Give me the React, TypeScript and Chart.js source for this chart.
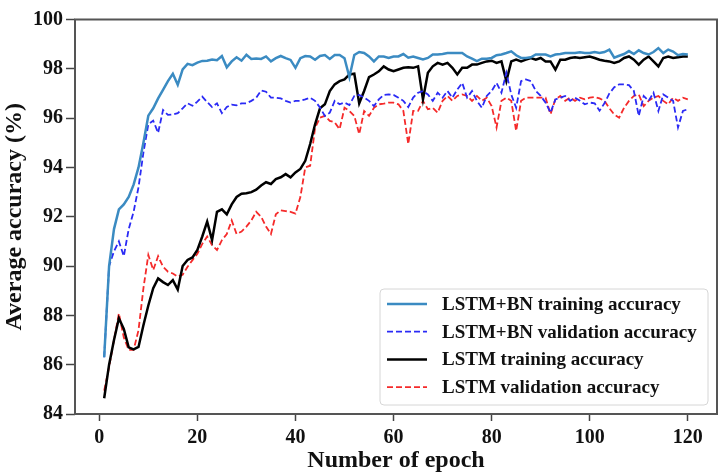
import React, { useEffect, useRef } from "react";
import { Chart, registerables } from "chart.js";

Chart.register(...registerables);

const epochs: number[] = Array.from({ length: 120 }, (_, i) => i + 1);

const xTicks = [0, 20, 40, 60, 80, 100, 120];
const yTicks = [84, 86, 88, 90, 92, 94, 96, 98, 100];

const seriesLabels = [
  "LSTM+BN training accuracy",
  "LSTM+BN validation accuracy",
  "LSTM training accuracy",
  "LSTM validation accuracy",
];

const bnTrain = [
  86.3, 90.0, 91.5, 92.3, 92.5, 92.8, 93.3, 94.0, 95.0, 96.1,
  96.4, 96.8, 97.15, 97.5, 97.8, 97.35, 97.98, 98.2, 98.15, 98.25,
  98.32, 98.33, 98.38, 98.35, 98.52, 98.06, 98.3, 98.47, 98.33, 98.57,
  98.4, 98.42, 98.4, 98.5, 98.3, 98.43, 98.52, 98.43, 98.36, 98.04,
  98.43, 98.52, 98.5, 98.37, 98.52, 98.56, 98.4, 98.56, 98.56, 98.43,
  97.66, 98.56, 98.68, 98.64, 98.5, 98.3, 98.5, 98.5, 98.44, 98.5,
  98.5, 98.6, 98.45, 98.5, 98.44, 98.38, 98.44, 98.58, 98.58, 98.6,
  98.64, 98.64, 98.64, 98.64, 98.5, 98.41, 98.31, 98.41, 98.41, 98.44,
  98.55, 98.58, 98.64, 98.71, 98.55, 98.44, 98.44, 98.47, 98.58, 98.58,
  98.58, 98.5, 98.58, 98.6, 98.64, 98.64, 98.64, 98.67, 98.64, 98.64,
  98.68, 98.64, 98.68, 98.78, 98.45, 98.53, 98.6, 98.72, 98.6, 98.75,
  98.64, 98.58, 98.68, 98.84, 98.64, 98.78, 98.7, 98.55, 98.6, 98.58,
];

const bnVal = [
  86.3, 90.0, 90.6, 91.0, 90.4, 91.5, 92.2, 93.2, 94.6, 95.75,
  95.9, 95.4, 96.33, 96.13, 96.15, 96.2, 96.4, 96.6, 96.5, 96.67,
  96.87, 96.65, 96.45, 96.6, 96.2, 96.45, 96.55, 96.52, 96.6, 96.6,
  96.7, 96.83, 97.12, 97.07, 96.83, 96.83, 96.8, 96.7, 96.63, 96.7,
  96.7, 96.76, 96.83, 96.7, 96.43, 96.09, 96.22, 96.7, 96.56, 96.63,
  96.53, 96.9, 96.94, 96.83, 96.7, 96.49, 96.76, 96.94, 96.96, 96.94,
  96.83, 96.7, 96.45, 96.83, 97.03, 97.1, 96.96, 96.7, 97.03, 96.83,
  97.1, 96.83, 97.16, 97.43, 96.83, 97.1, 96.7, 96.42, 96.9, 97.1,
  97.43, 97.03, 97.84, 96.96, 96.42, 97.5, 97.57, 97.5, 97.1, 96.9,
  96.63, 96.22, 96.76, 96.83, 96.9, 96.7, 96.83, 96.7, 96.56, 96.63,
  96.6, 96.3, 96.6, 97.0, 97.25, 97.37, 97.37, 97.34, 97.1, 96.09,
  96.9, 96.7, 97.03, 96.29, 96.96, 96.83, 96.7, 95.62, 96.29, 96.36,
];

const lstmTrain = [
  84.64, 86.0, 87.0, 87.88, 87.45, 86.7, 86.62, 86.72, 87.6, 88.4,
  89.1, 89.5, 89.35, 89.23, 89.43, 89.05, 90.0, 90.25, 90.35, 90.65,
  91.2, 91.8, 91.05, 92.2, 92.3, 92.1, 92.5, 92.8, 92.93, 92.95,
  93.0, 93.1, 93.27, 93.4, 93.33, 93.53, 93.6, 93.73, 93.6, 93.8,
  93.94, 94.27, 94.95, 95.75, 96.4, 96.56, 97.1, 97.37, 97.5, 97.57,
  97.77, 97.8, 96.6, 97.1, 97.66, 97.77, 97.9, 98.1, 97.97, 97.9,
  97.97, 98.04, 98.06, 98.04, 98.1, 96.76, 97.84, 98.1, 98.24, 98.17,
  98.24, 98.04, 97.77, 98.04, 98.04, 98.17, 98.17, 98.24, 98.3, 98.33,
  98.24, 98.3, 97.5, 98.3, 98.37, 98.3, 98.37, 98.44, 98.37, 98.44,
  98.3, 98.3, 97.97, 98.37, 98.37, 98.44, 98.47, 98.44, 98.47, 98.5,
  98.44, 98.37, 98.33, 98.3, 98.24, 98.3, 98.44, 98.5, 98.37, 98.17,
  98.37, 98.5, 98.3, 98.1, 98.44, 98.5, 98.44, 98.47, 98.5, 98.5,
];

const lstmVal = [
  84.95, 85.9, 87.0, 88.08, 87.1, 86.6, 86.6, 87.4, 89.1, 90.45,
  89.84, 90.4, 89.97, 89.77, 89.7, 89.57, 89.65, 89.97, 90.24, 90.5,
  90.9, 91.2, 90.85, 90.65, 91.05, 91.3, 91.85, 91.3, 91.4, 91.6,
  91.85, 92.2, 92.0, 91.6, 91.3, 92.1, 92.26, 92.23, 92.2, 92.13,
  92.8, 94.0, 94.07, 95.6, 96.02, 96.09, 95.89, 95.83, 95.55, 96.42,
  96.29, 96.09, 95.35, 96.29, 96.09, 96.42, 96.56, 96.59, 96.63, 96.63,
  96.56, 96.29, 94.95, 96.29, 96.29, 96.7, 96.36, 96.42, 96.22, 96.7,
  96.9, 96.7, 96.9, 96.96, 96.9, 96.7, 96.9, 96.7, 96.83, 96.49,
  95.62, 96.7, 96.83, 96.7, 95.48, 96.7, 96.83, 96.83, 96.83, 96.83,
  96.83, 96.16, 96.76, 96.9, 96.7, 96.83, 96.7, 96.83, 96.76, 96.83,
  96.86, 96.8, 96.7, 96.4, 96.15, 96.02, 96.42, 96.7, 96.9, 96.96,
  96.49, 96.7, 96.83, 96.9, 96.7, 96.56, 96.83, 96.7, 96.83, 96.76,
];

const FONT = "'Liberation Serif', 'Times New Roman', serif";

const framePlugin = {
  id: "frameBox",
  afterDatasetsDraw(chart: any) {
    const { ctx, chartArea } = chart;
    ctx.save();
    ctx.strokeStyle = "#555555";
    ctx.lineWidth = 2;
    ctx.strokeRect(chartArea.left, chartArea.top, chartArea.right - chartArea.left, chartArea.bottom - chartArea.top);
    ctx.restore();
  },
};

const legendPlugin = {
  id: "insideLegend",
  afterDraw(chart: any) {
    const { ctx, chartArea } = chart;
    const boxRight = chartArea.right - 9;
    const boxBottom = chartArea.bottom - 9;
    const w = 328;
    const h = 116;
    const x0 = boxRight - w;
    const y0 = boxBottom - h;
    ctx.save();
    ctx.beginPath();
    const r = 4;
    ctx.moveTo(x0 + r, y0);
    ctx.lineTo(x0 + w - r, y0);
    ctx.quadraticCurveTo(x0 + w, y0, x0 + w, y0 + r);
    ctx.lineTo(x0 + w, y0 + h - r);
    ctx.quadraticCurveTo(x0 + w, y0 + h, x0 + w - r, y0 + h);
    ctx.lineTo(x0 + r, y0 + h);
    ctx.quadraticCurveTo(x0, y0 + h, x0, y0 + h - r);
    ctx.lineTo(x0, y0 + r);
    ctx.quadraticCurveTo(x0, y0, x0 + r, y0);
    ctx.closePath();
    ctx.fillStyle = "rgba(255,255,255,0.85)";
    ctx.fill();
    ctx.strokeStyle = "#d6d6d6";
    ctx.lineWidth = 1;
    ctx.stroke();
    chart.data.datasets.forEach((ds: any, i: number) => {
      const y = y0 + 15 + i * 27.7;
      ctx.beginPath();
      ctx.setLineDash(ds.borderDash || []);
      ctx.strokeStyle = ds.borderColor;
      ctx.lineWidth = ds.borderWidth;
      ctx.moveTo(x0 + 7, y);
      ctx.lineTo(x0 + 47, y);
      ctx.stroke();
      ctx.setLineDash([]);
      ctx.fillStyle = "#111111";
      ctx.font = `bold 19px ${FONT}`;
      ctx.textBaseline = "middle";
      ctx.textAlign = "left";
      ctx.fillText(ds.label, x0 + 62, y + 1);
    });
    ctx.restore();
  },
};

export default function App() {
  const canvasRef = useRef<HTMLCanvasElement | null>(null);

  useEffect(() => {
    if (!canvasRef.current) return;
    const chart = new Chart(canvasRef.current, {
      type: "line",
      data: {
        labels: epochs,
        datasets: [
          { label: seriesLabels[0], data: bnTrain, borderColor: "#3b8bc2", borderWidth: 2.5, pointRadius: 0, tension: 0 },
          { label: seriesLabels[1], data: bnVal, borderColor: "#2a2af5", borderWidth: 1.8, borderDash: [6, 3], pointRadius: 0, tension: 0 },
          { label: seriesLabels[2], data: lstmTrain, borderColor: "#000000", borderWidth: 2.5, pointRadius: 0, tension: 0 },
          { label: seriesLabels[3], data: lstmVal, borderColor: "#f52a2a", borderWidth: 1.8, borderDash: [6, 3], pointRadius: 0, tension: 0 },
        ],
      },
      options: {
        responsive: false,
        animation: false,
        devicePixelRatio: 1,
        layout: { padding: { left: 0, right: 7, top: 19.5, bottom: 0 } },
        plugins: { legend: { display: false }, tooltip: { enabled: false } },
        scales: {
          x: {
            type: "linear",
            min: -4.95,
            max: 125.95,
            afterBuildTicks: (scale: any) => {
              scale.ticks = xTicks.map((v) => ({ value: v }));
            },
            afterFit: (scale: any) => {
              scale.height = 60;
            },
            ticks: { font: { family: FONT, size: 20, weight: "bold" }, color: "#111", padding: 5, maxRotation: 0 },
            grid: { drawOnChartArea: false, drawTicks: true, tickLength: 7, tickWidth: 1.5, tickColor: "#444" },
            border: { display: false },
            title: { display: true, text: "Number of epoch", font: { family: FONT, size: 24, weight: "bold" }, color: "#111", padding: { top: 0, bottom: -1 } },
          },
          y: {
            type: "linear",
            min: 84,
            max: 100,
            afterBuildTicks: (scale: any) => {
              scale.ticks = yTicks.map((v) => ({ value: v }));
            },
            afterFit: (scale: any) => {
              scale.width = 75;
            },
            ticks: { font: { family: FONT, size: 20, weight: "bold" }, color: "#111", padding: 3 },
            grid: { drawOnChartArea: false, drawTicks: true, tickLength: 9, tickWidth: 1.5, tickColor: "#444" },
            border: { display: false },
            title: { display: true, text: "Average accuracy (%)", font: { family: FONT, size: 24, weight: "bold" }, color: "#111", padding: { top: 0, bottom: 0 } },
          },
        },
      },
      plugins: [framePlugin, legendPlugin],
    });
    return () => chart.destroy();
  }, []);

  return (
    <div style={{ position: "absolute", left: 0, top: 0, width: 724, height: 474, background: "#fff" }}>
      <canvas ref={canvasRef} width={724} height={474} style={{ width: 724, height: 474, display: "block" }} />
    </div>
  );
}
